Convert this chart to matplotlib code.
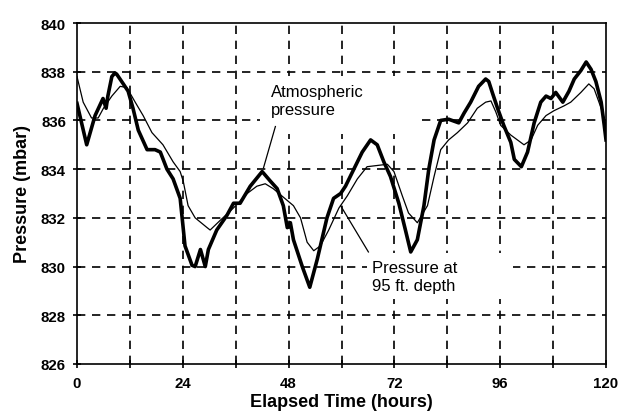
import matplotlib
matplotlib.use("Agg")
import matplotlib.pyplot as plt
from matplotlib.patches import Rectangle

plt.rcParams['font.family'] = ['Liberation Sans', 'DejaVu Sans']

# Atmospheric pressure (thick line)
atm_t = [0.0, 2.2, 4.1, 5.9, 6.6, 7.0, 7.9, 8.6, 9.0, 10.5, 11.6, 12.7, 13.9, 15.9, 17.7,
         18.9, 20.4, 21.8, 23.4, 24.5, 26.1, 26.8, 28.0, 29.1, 29.8, 31.7, 34.0, 35.5, 37.0,
         39.3, 42.0, 43.9, 45.4, 46.8, 47.7, 48.4, 49.1, 51.1, 52.8, 54.5, 56.7, 58.2, 59.8,
         60.9, 62.8, 64.7, 66.6, 68.1, 69.6, 71.1, 73.0, 74.5, 75.7, 77.2, 78.7, 79.8, 81.0,
         82.5, 84.3, 86.6, 87.8, 89.3, 91.1, 92.7, 93.4, 94.2, 95.4, 96.8, 98.4, 99.2, 100.8,
         102.2, 103.7, 105.2, 106.4, 107.5, 108.6, 110.2, 111.6, 112.8, 114.3, 115.5, 116.6,
         117.7, 118.9, 119.6, 120.0]
atm_p = [836.7, 835.0, 836.2, 836.9, 836.5, 837.0, 837.8, 837.95, 837.9, 837.5, 837.2, 836.5,
         835.6, 834.8, 834.8, 834.7, 834.0, 833.6, 832.8, 830.85, 830.05, 830.0, 830.7, 830.0,
         830.7, 831.5, 832.1, 832.6, 832.6, 833.3, 833.9, 833.5, 833.2, 832.5, 831.6, 831.8,
         831.1, 830.0, 829.15, 830.3, 832.0, 832.8, 833.0, 833.3, 834.0, 834.7, 835.2, 835.0,
         834.3, 833.7, 832.6, 831.5, 830.6, 831.1, 832.5, 834.0, 835.2, 836.0, 836.05, 835.9,
         836.3, 836.75, 837.4, 837.7, 837.6, 837.15, 836.5, 835.8, 835.1, 834.4, 834.1, 834.7,
         835.9, 836.75, 837.0, 836.9, 837.15, 836.75, 837.2, 837.7, 838.05, 838.4, 838.1,
         837.6, 836.75, 835.8, 835.2]

# Pressure at 95 ft. depth (thin line)
dep_t = [0.0, 1.4, 3.3, 4.8, 6.0, 7.9, 9.8, 11.3, 13.2, 15.0, 17.0, 19.5, 21.8, 23.4, 24.1,
         25.2, 26.8, 29.5, 30.2, 32.5, 34.3, 36.3, 38.6, 40.8, 42.7, 44.5, 46.8, 49.1, 50.7,
         52.2, 53.7, 55.2, 57.1, 59.4, 61.3, 63.6, 65.8, 68.1, 70.4, 71.9, 73.8, 75.2, 77.2,
         79.5, 81.0, 82.5, 84.3, 86.3, 88.6, 90.8, 92.7, 93.9, 95.0, 96.1, 98.4, 101.4, 103.0,
         104.5, 106.4, 108.2, 110.5, 112.0, 114.3, 116.1, 117.3, 118.9, 120.0]
dep_p = [837.8, 836.75, 836.1, 836.1, 836.5, 837.0, 837.4, 837.35, 836.75, 836.2, 835.5, 835.0,
         834.3, 833.9, 833.5, 832.5, 832.0, 831.6, 831.5, 831.9, 832.2, 832.55, 833.0, 833.3,
         833.4, 833.2, 832.85, 832.5, 832.0, 831.0, 830.65, 830.85, 831.5, 832.4, 832.9, 833.6,
         834.1, 834.15, 834.2, 833.9, 832.9, 832.2, 831.8, 832.5, 833.7, 834.8, 835.2, 835.5,
         835.9, 836.5, 836.75, 836.8, 836.35, 835.8, 835.4, 835.0, 835.2, 835.8, 836.2, 836.4,
         836.6, 836.75, 837.15, 837.5, 837.3, 836.5, 835.8]

x_ticks = [0, 24, 48, 72, 96, 120]
x_grid = [12, 24, 36, 48, 60, 72, 84, 96, 108]
y_ticks = [826, 828, 830, 832, 834, 836, 838, 840]

fig = plt.figure(figsize=(6.18, 4.14), dpi=100)
ax = fig.add_axes([0.1246, 0.1184, 0.856, 0.8236])

ax.set_xlim(0, 120)
ax.set_ylim(826, 840)

for x in x_grid:
    ax.axvline(x, color='black', lw=1.2, ls=(0, (5, 4)), zorder=1)
for y in y_ticks[1:-1]:
    ax.axhline(y, color='black', lw=1.2, ls=(0, (5, 4)), zorder=1)

# white boxes behind annotation text (grid interrupted there)
ax.add_patch(Rectangle((0.346, 0.675), 0.297, 0.17, transform=ax.transAxes,
                       facecolor='white', edgecolor='none', zorder=2))
ax.add_patch(Rectangle((0.549, 0.19), 0.276, 0.135, transform=ax.transAxes,
                       facecolor='white', edgecolor='none', zorder=2))

ax.plot(dep_t, dep_p, color='black', lw=0.9, zorder=3)
ax.plot(atm_t, atm_p, color='black', lw=2.6, zorder=4, solid_joinstyle='round')

ax.text(43.9, 836.82, "Atmospheric\npressure", fontsize=12, va='center', ha='left',
        linespacing=1.2, zorder=5)
ax.plot([45.0, 42.3], [835.75, 834.05], color='black', lw=0.9, zorder=5)

ax.text(67.0, 829.6, "Pressure at\n95 ft. depth", fontsize=12, va='center', ha='left',
        linespacing=1.2, zorder=5)
ax.plot([66.1, 59.8], [830.6, 832.5], color='black', lw=0.9, zorder=5)

ax.set_xticks(x_ticks)
ax.set_xticks(x_grid, minor=True)
ax.set_yticks(y_ticks)
ax.tick_params(axis='both', which='both', direction='inout', length=6, width=1.2,
               labelsize=10.8)
ax.tick_params(axis='x', which='minor', labelbottom=False)
ax.tick_params(axis='x', pad=6)
ax.tick_params(axis='y', pad=5)
for lab in ax.get_xticklabels() + ax.get_yticklabels():
    lab.set_fontweight('bold')

for s in ax.spines.values():
    s.set_linewidth(1.2)

ax.set_xlabel("Elapsed Time (hours)", fontsize=13, fontweight='bold', labelpad=2)
ax.set_ylabel("Pressure (mbar)", fontsize=13, fontweight='bold', labelpad=7)

fig.savefig("out.png", dpi=100)
